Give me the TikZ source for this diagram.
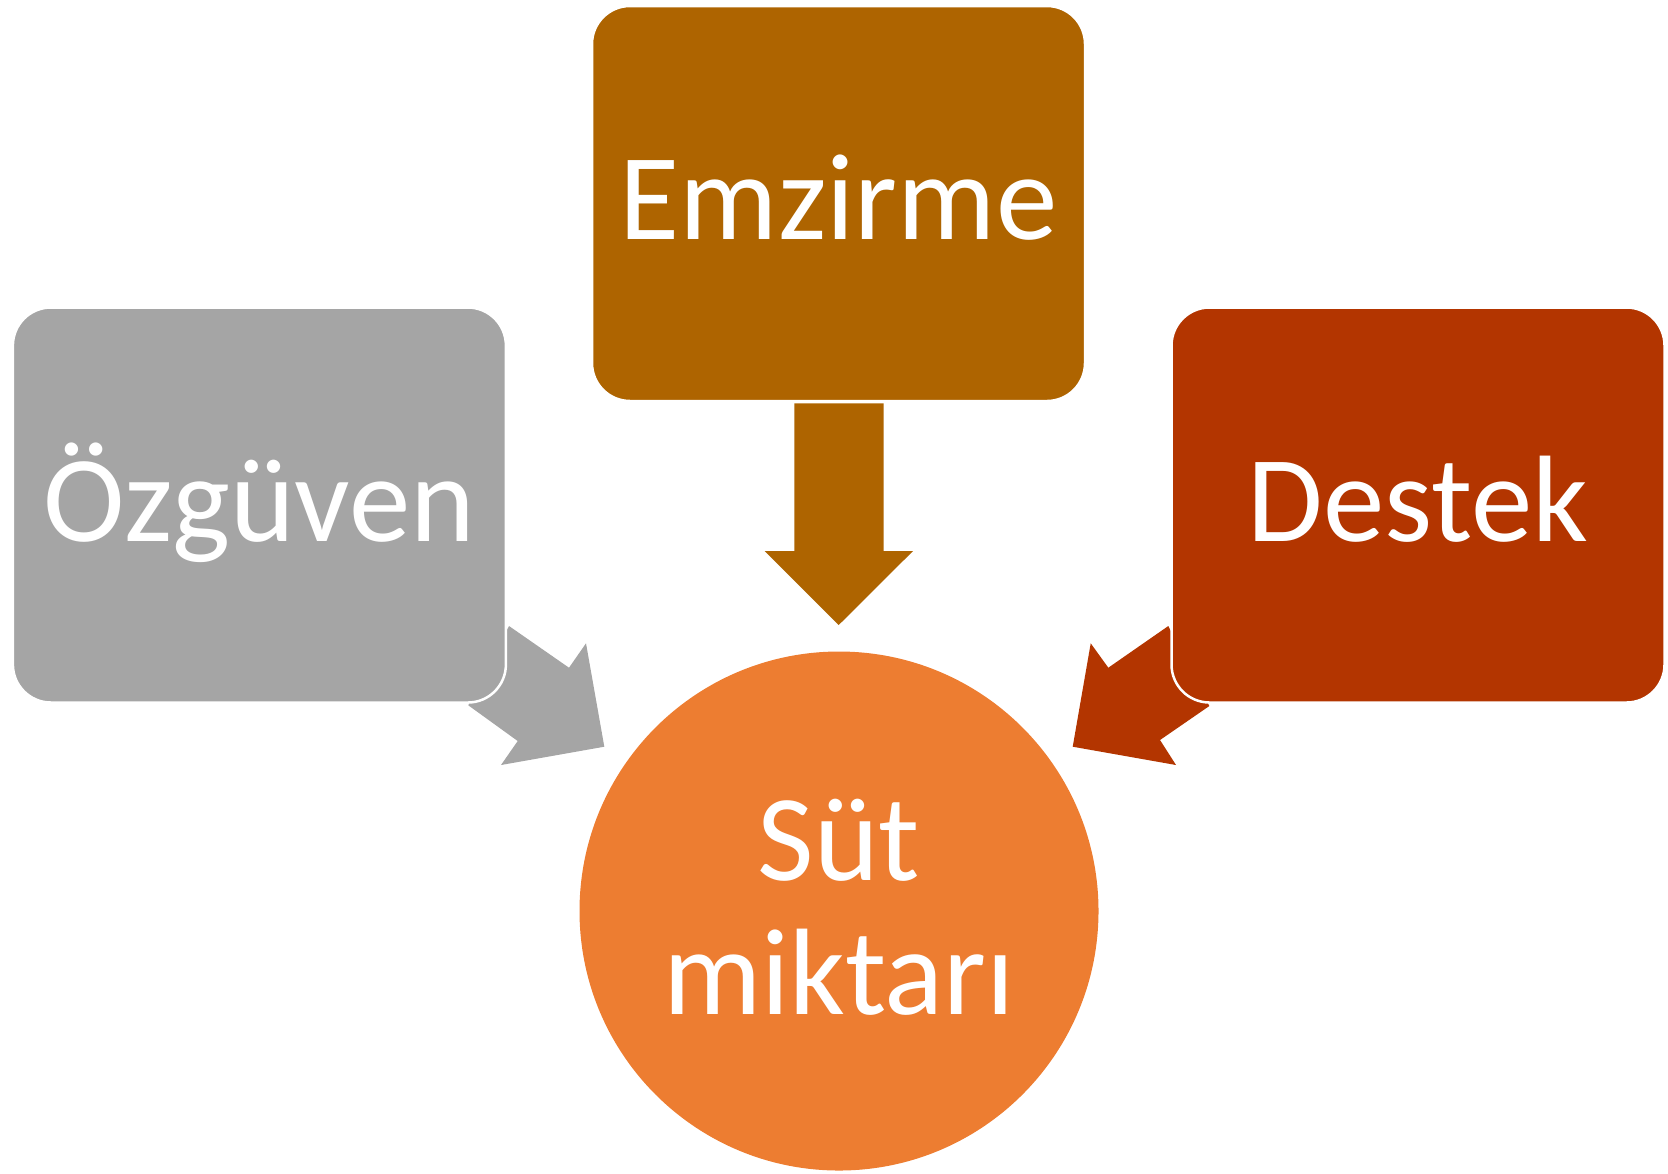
\documentclass[tikz,border=0pt]{standalone}
\usepackage{fontspec}
\setmainfont{Carlito}
\definecolor{cEm}{HTML}{AE6400}
\definecolor{cDe}{HTML}{B33500}
\definecolor{cOz}{HTML}{A5A5A5}
\definecolor{cSu}{HTML}{ED7D31}
\begin{document}
\begin{tikzpicture}[x=0.1mm,y=-0.1mm,
  boxnode/.style={rectangle, rounded corners=3.8mm, draw=white, line width=0.25mm,
    minimum width=49.3mm, minimum height=39.5mm, inner sep=0pt,
    text=white, font=\fontsize{35}{38}\selectfont, text height=25.2pt, text depth=4.5pt}]
\useasboundingbox (0,0) rectangle (1668,1173);
% circle
\node[circle, fill=cSu, minimum size=51.9mm, inner sep=0pt, text=white, align=center,
  font=\fontsize{35}{38}\selectfont] (sut) at (839,911) {Süt\\miktarı\rule[-0.065em]{0pt}{0pt}};
% block arrows
\fill[cEm] (794.3,403.3) -- (883.7,403.3) -- (883.7,551) -- (913,551) -- (838.7,625)
  -- (764.7,551) -- (794.3,551) -- cycle;
\fill[cOz] (509,626) -- (569,667.7) -- (586,643.3) -- (604.3,746.7) -- (501,765)
  -- (517.7,741) -- (468.3,705.3) -- cycle;
\fill[cDe] (1168.3,626) -- (1108.3,667.7) -- (1090.7,643.3) -- (1072.7,746.7) -- (1176,765)
  -- (1160,740) -- (1209.3,706) -- cycle;
% boxes
\node[boxnode, fill=cEm] (emz) at (838.5,203.5) {Emzirme};
\node[boxnode, fill=cOz] (ozg) at (259.4,505) {Özgüven};
\node[boxnode, fill=cDe] (des) at (1418,505) {Destek};
\end{tikzpicture}
\end{document}
